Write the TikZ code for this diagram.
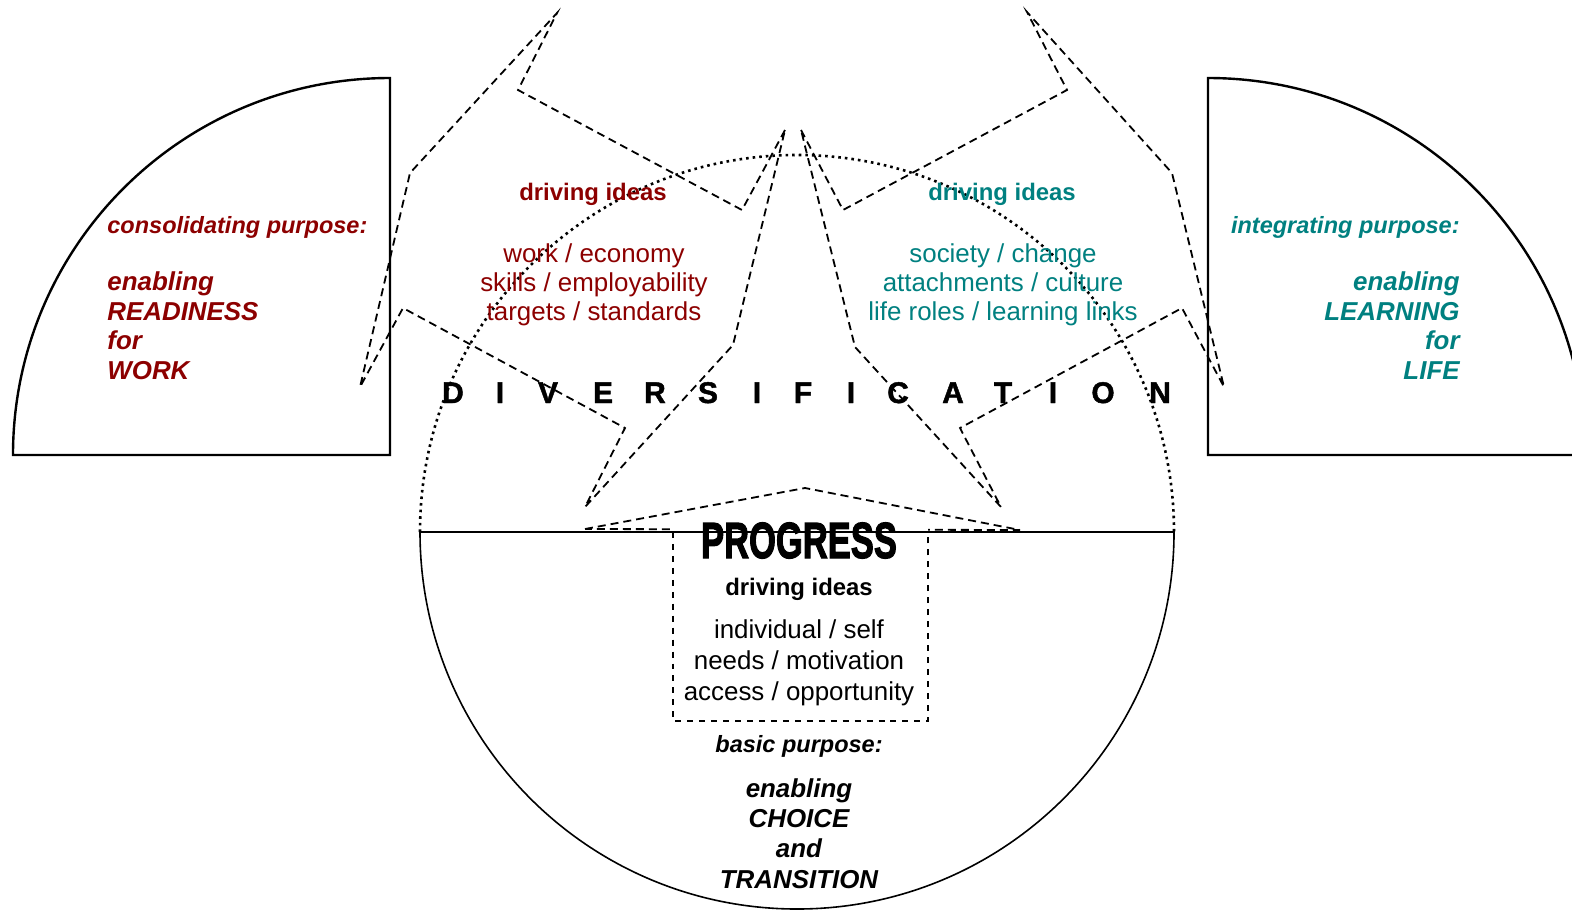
\documentclass[tikz,border=0pt]{standalone}
\usepackage{fontspec}
\setmainfont{Liberation Sans}
\usepackage{graphicx}
\definecolor{workred}{RGB}{140,0,0}
\definecolor{lifeteal}{RGB}{0,128,128}

\begin{document}
\begin{tikzpicture}[x=0.5bp,y=-0.5bp,
    spike/.style={dash pattern=on 4bp off 2.5bp, line width=0.9bp},
    rim/.style={line width=1.2bp},
    idea/.style={anchor=base, inner sep=0pt, font=\fontsize{13}{15}\selectfont},
    ideahead/.style={anchor=base, inner sep=0pt, font=\fontsize{12}{14}\selectfont\bfseries},
    purpose/.style={inner sep=0pt, font=\fontsize{11.8}{14}\selectfont\bfseries\itshape},
    aim/.style={inner sep=0pt, font=\fontsize{13}{15}\selectfont\bfseries\itshape},
    letter/.style={anchor=base, inner sep=0pt, font=\fontsize{15}{15}\selectfont\bfseries\addfontfeatures{FakeBold=1.5}}]
    \useasboundingbox (0,0) rectangle (1572,912);
    \clip (0,0) rectangle (1572,912);
    % quarter discs
    \draw[rim] (390,455) -- (390,78) arc[start angle=90, end angle=180, radius=188.5bp] -- cycle;
    \draw[rim] (1208,455) -- (1208,78) arc[start angle=90, end angle=0, radius=188.5bp] -- cycle;
    % circle
    \draw[line width=0.8bp] (420,532) arc[start angle=180, end angle=360, radius=188.5bp];
    \draw[line width=1.3bp, dash pattern=on 1.3bp off 2bp] (420,532) arc[start angle=180, end angle=0, radius=188.5bp];
    % stars
    \draw[spike] (785,130) -- (742,210) -- (518,90) -- (557,13) -- (410,173) -- (360,387) -- (403,308) -- (625,428) -- (585,507) -- (733,345) -- cycle;
    \draw[spike] (801,130) -- (843,210) -- (1067,90) -- (1027,12) -- (1172,173) -- (1224,387) -- (1182,308) -- (960,428) -- (1001,507) -- (855,347) -- cycle;
    \draw[spike] (585,529) -- (805,488) -- (1020,530) -- cycle;
    \fill[white] (673,527) rectangle (928,721);
    \draw[dashed, line width=0.8bp] (673,532) -- (673,721) -- (928,721) -- (928,532);
    \draw[line width=1.1bp] (420,532) -- (1175,532);

    \node[ideahead, workred] (workhead) at (593,200) {driving ideas};
    \node[idea, workred] (work1) at (594,262) {work / economy};
    \node[idea, workred] (work2) at (594,291) {skills / employability};
    \node[idea, workred] (work3) at (594,320) {targets / standards};

    \node[ideahead, lifeteal] (lifehead) at (1002,200) {driving ideas};
    \node[idea, lifeteal] (life1) at (1003,262) {society / change};
    \node[idea, lifeteal] (life2) at (1003,291) {attachments / culture};
    \node[idea, lifeteal] (life3) at (1003,320) {life roles / learning links};

    \node[purpose, workred, anchor=base west] (workpurpose) at (107,233) {consolidating purpose:};
    \node[aim, workred, anchor=base west] (workaim1) at (107,290) {enabling};
    \node[aim, workred, anchor=base west] (workaim2) at (107,320) {READINESS};
    \node[aim, workred, anchor=base west] (workaim3) at (107,349) {for};
    \node[aim, workred, anchor=base west] (workaim4) at (107,379) {WORK};

    \node[purpose, lifeteal, anchor=base east] (lifepurpose) at (1460,233) {integrating purpose:};
    \node[aim, lifeteal, anchor=base east] (lifeaim1) at (1460,290) {enabling};
    \node[aim, lifeteal, anchor=base east] (lifeaim2) at (1460,320) {LEARNING};
    \node[aim, lifeteal, anchor=base east] (lifeaim3) at (1460,349) {for};
    \node[aim, lifeteal, anchor=base east] (lifeaim4) at (1460,379) {LIFE};

    \foreach \x/\l in {453/D, 500/I, 548/V, 603/E, 655/R, 708/S, 757/I, 803/F, 851/I, 898/C, 953/A, 1003/T, 1053/I, 1103/O, 1160/N}
        \node[letter] (div\x) at (\x,403) {\l};

    \node[anchor=base, inner sep=0pt] (progress) at (799,558) {\scalebox{0.68}[1]{\fontsize{25.5}{26}\selectfont\bfseries\addfontfeatures{FakeBold=2.5}PROGRESS}};
    \node[ideahead] (selfhead) at (799,595) {driving ideas};
    \node[idea] (self1) at (799,638) {individual / self};
    \node[idea] (self2) at (799,669) {needs / motivation};
    \node[idea] (self3) at (799,700) {access / opportunity};

    \node[purpose, anchor=base] (basicpurpose) at (799,752) {basic purpose:};
    \node[aim, anchor=base] (basicaim1) at (799,797) {enabling};
    \node[aim, anchor=base] (basicaim2) at (799,827) {CHOICE};
    \node[aim, anchor=base] (basicaim3) at (799,857) {and};
    \node[aim, anchor=base] (basicaim4) at (799,888) {TRANSITION};
\end{tikzpicture}
\end{document}
